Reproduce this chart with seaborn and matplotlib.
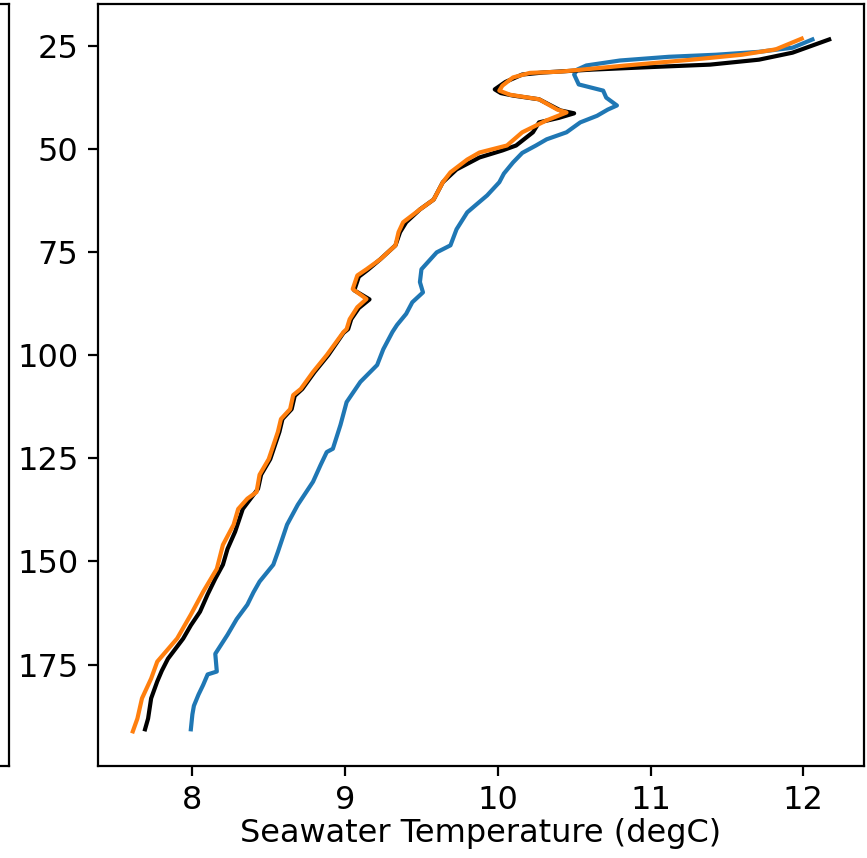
import matplotlib
matplotlib.use("Agg")
import matplotlib.pyplot as plt
import seaborn as sns

# ---- data ----
blue_T = [12.06, 11.93, 11.71, 11.43, 11.12, 10.80, 10.58, 10.52, 10.50, 10.53, 10.69, 10.71, 10.78, 10.72,
          10.65, 10.54, 10.45, 10.32, 10.25, 10.16, 10.10, 10.04, 10.01, 9.93, 9.86, 9.80, 9.73, 9.69,
          9.60, 9.50, 9.49, 9.51, 9.44, 9.40, 9.34, 9.31, 9.25, 9.21, 9.10, 9.01, 8.97, 8.92, 8.88, 8.84,
          8.79, 8.69, 8.62, 8.56, 8.53, 8.44, 8.40, 8.36, 8.29, 8.23, 8.15, 8.16, 8.10, 8.07, 8.04, 8.01,
          8.00, 7.99]
blue_d = [23.5, 25.5, 26.5, 27.2, 27.7, 28.6, 29.8, 30.8, 32.0, 34.4, 35.9, 37.6, 39.5, 40.5,
          42.0, 43.6, 46.0, 47.7, 49.2, 51.0, 53.3, 56.0, 58.1, 61.3, 63.5, 65.4, 69.5, 73.4,
          75.1, 79.2, 82.3, 84.8, 87.2, 90.0, 92.7, 94.4, 98.6, 102.4, 106.5, 111.4, 116.9, 122.7, 123.5, 126.6,
          130.7, 136.3, 141.1, 147.7, 150.8, 154.9, 157.5, 160.5, 164.0, 167.8, 172.4, 176.7, 177.4, 180.0, 182.3, 185.0,
          187.1, 190.7]

black_T = [12.17, 11.93, 11.71, 11.39, 11.06, 10.62, 10.30, 10.16, 10.05, 9.98, 10.02, 10.10, 10.27, 10.41,
           10.50, 10.40, 10.27, 10.23, 10.12, 10.03, 9.88, 9.73, 9.64, 9.58, 9.49, 9.40, 9.36, 9.33,
           9.23, 9.15, 9.09, 9.06, 9.16, 9.09, 9.04, 9.02, 8.99, 8.89, 8.80, 8.72, 8.67, 8.65, 8.59, 8.57,
           8.51, 8.45, 8.43, 8.33, 8.28, 8.23, 8.20, 8.15, 8.10, 8.05, 7.99, 7.94, 7.84, 7.80, 7.77, 7.73,
           7.71, 7.69]
black_d = [23.5, 26.7, 28.4, 29.6, 30.1, 30.8, 31.5, 32.0, 33.8, 35.6, 36.5, 37.1, 38.0, 40.7,
           41.4, 42.5, 43.6, 46.0, 49.2, 50.4, 52.1, 55.0, 58.1, 62.3, 64.7, 67.8, 70.2, 73.4,
           76.8, 79.3, 81.0, 84.3, 86.5, 88.6, 91.3, 93.7, 94.6, 100.0, 104.1, 108.2, 109.9, 113.1, 115.5, 118.6,
           125.2, 129.0, 132.4, 137.3, 142.8, 147.0, 150.8, 154.2, 158.0, 162.2, 165.5, 168.7, 173.6, 176.5, 179.1, 183.2,
           188.1, 190.7]

orange_T = [11.99, 11.82, 11.60, 11.27, 10.84, 10.41, 10.21, 10.10, 10.03, 10.01, 10.08, 10.27, 10.39, 10.45,
            10.32, 10.16, 10.06, 9.88, 9.80, 9.69, 9.64, 9.58, 9.49, 9.38, 9.35, 9.33, 9.23, 9.14,
            9.08, 9.05, 9.14, 9.08, 9.03, 9.01, 8.99, 8.88, 8.79, 8.71, 8.66, 8.64, 8.58, 8.56, 8.50, 8.44,
            8.42, 8.36, 8.30, 8.27, 8.20, 8.16, 8.07, 7.99, 7.90, 7.77, 7.73, 7.67, 7.64, 7.61]
orange_d = [23.3, 25.9, 27.2, 28.4, 29.8, 31.3, 31.6, 32.7, 34.7, 35.9, 36.9, 38.0, 40.5, 41.2,
            43.1, 46.0, 49.2, 50.9, 52.6, 55.7, 58.1, 62.3, 64.7, 67.8, 70.2, 73.4, 76.8, 79.2,
            80.7, 84.0, 86.4, 88.4, 91.3, 93.7, 94.4, 100.0, 104.1, 108.2, 109.7, 113.1, 115.5, 118.6, 125.2, 129.0,
            133.2, 134.8, 137.3, 141.1, 146.0, 151.8, 157.4, 162.9, 168.7, 174.3, 178.4, 183.2, 188.1, 191.2]

x_ticks = [8, 9, 10, 11, 12]
y_ticks = [25, 50, 75, 100, 125, 150, 175]
x_label = "Seawater Temperature (degC)"

# ---- figure ----
W, H, DPI = 867, 858, 200
plt.rcParams["font.size"] = 11.5
fig = plt.figure(figsize=(W / DPI, H / DPI), dpi=DPI)

# partially visible neighbouring panel on the left edge
ax_left = fig.add_axes([-0.5, (H - 766) / H, 0.5 + 9 / W, 762 / H])
ax_left.set_xticks([])
ax_left.set_yticks([])

ax = fig.add_axes([98 / W, (H - 766) / H, 766 / W, 762 / H])

sns.lineplot(x=blue_T, y=blue_d, sort=False, estimator=None, color="#1f77b4", ax=ax)
sns.lineplot(x=black_T, y=black_d, sort=False, estimator=None, color="black", ax=ax)
sns.lineplot(x=orange_T, y=orange_d, sort=False, estimator=None, color="#ff7f0e", ax=ax)

ax.invert_yaxis()
ax.set_xticks(x_ticks)
ax.set_yticks(y_ticks)
ax.tick_params(labelsize=11.5)
ax.set_xlabel(x_label, fontsize=11.5, labelpad=0.5)
ax.set_ylabel("")

fig.savefig("out.png", dpi=DPI)
